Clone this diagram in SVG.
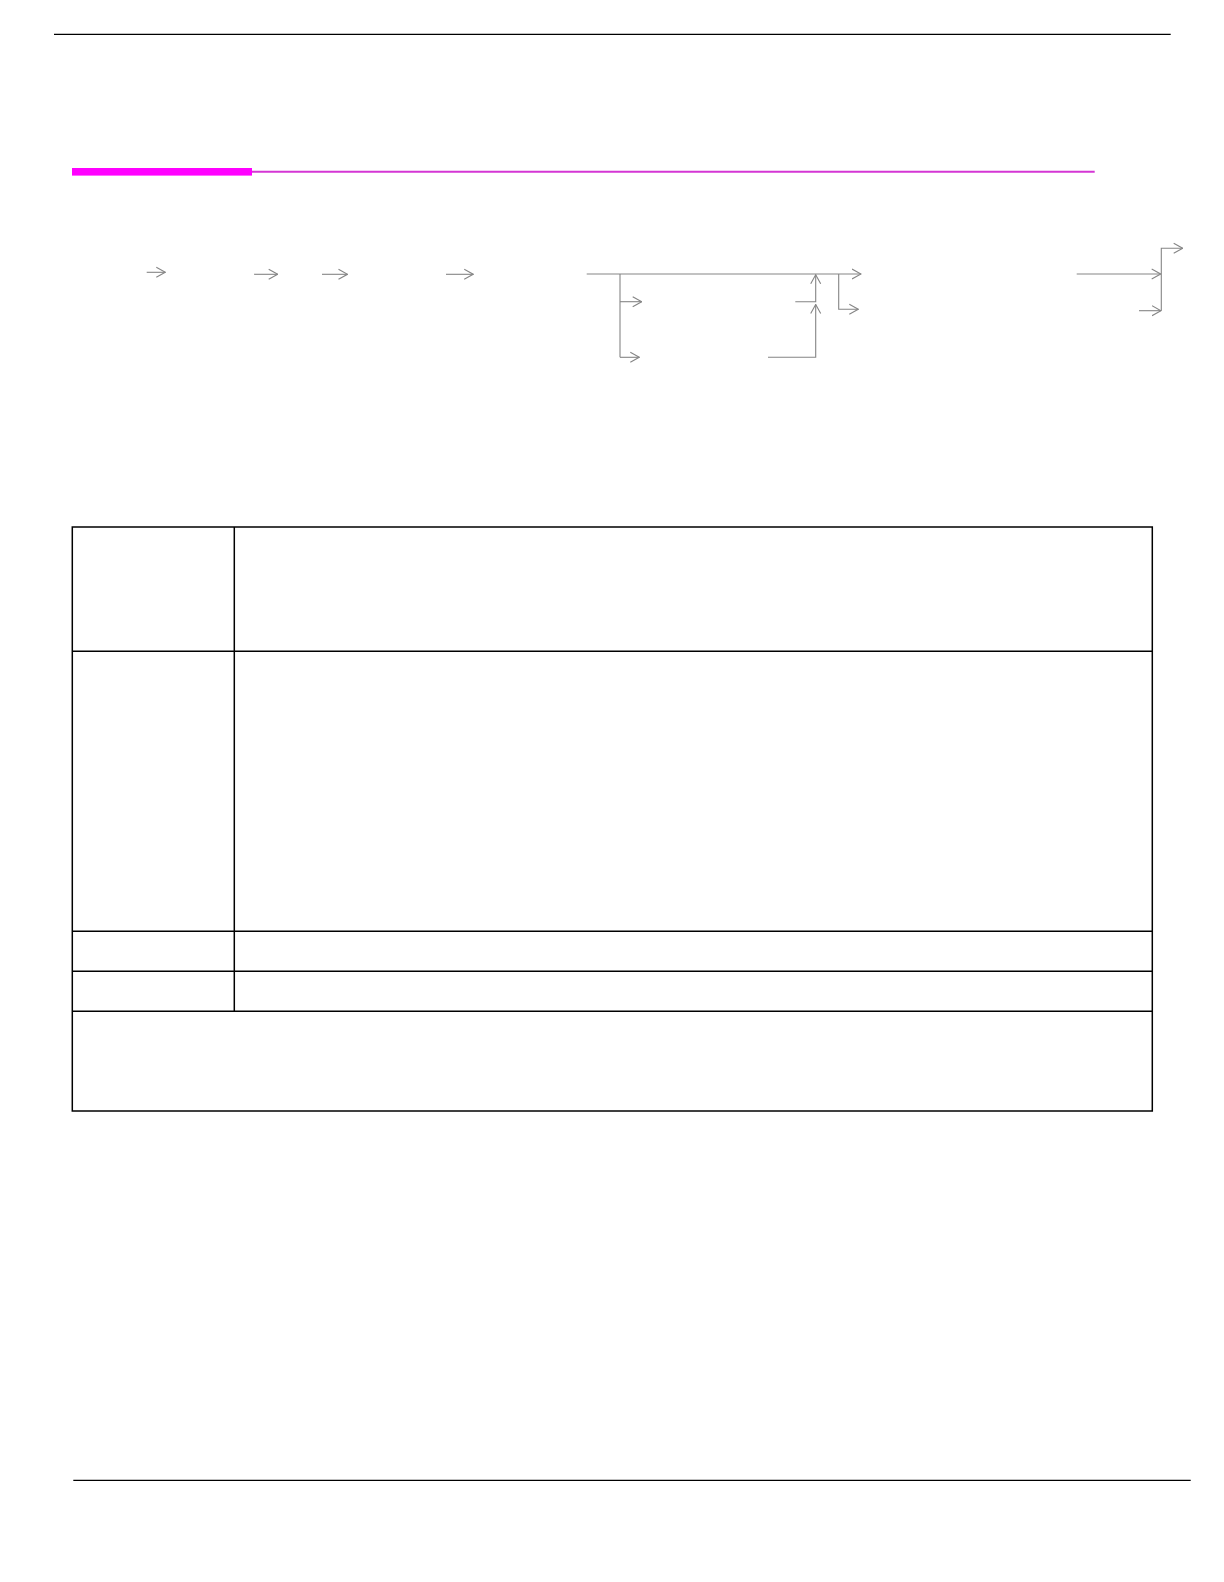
<svg xmlns="http://www.w3.org/2000/svg" width="1224" height="1582" viewBox="0 0 1224 1582">
  <style>
    .rule { stroke: #000000; stroke-width: 1.3; fill: none; }
    .conn { stroke: #858585; stroke-width: 1.1; fill: none; }
    .cell { stroke: #000000; stroke-width: 1.5; fill: none; }
  </style>
  <defs>
    <marker id="arr" markerUnits="userSpaceOnUse" viewBox="0 0 10 12" markerWidth="10" markerHeight="12" refX="9.5" refY="6" orient="auto">
      <path d="M0.5,1 L9.5,6 L0.5,11" fill="none" stroke="#858585" stroke-width="1.1"/>
    </marker>
  </defs>
  <rect width="1224" height="1582" fill="#ffffff"/>

  <g id="header">
    <line class="rule" x1="54" y1="34.3" x2="1170.7" y2="34.3"/>
    <rect x="72" y="168" width="180" height="7.6" fill="#ff00ff"/>
    <line x1="252" y1="171.7" x2="1094.7" y2="171.7" stroke="#d436d4" stroke-width="2"/>
  </g>

  <g id="connectors">
    <line class="conn" x1="146.7" y1="272.3" x2="165.3" y2="272.3" marker-end="url(#arr)"/>
    <line class="conn" x1="254" y1="274.3" x2="277.7" y2="274.3" marker-end="url(#arr)"/>
    <line class="conn" x1="322" y1="274.3" x2="347.5" y2="274.3" marker-end="url(#arr)"/>
    <line class="conn" x1="446" y1="274.3" x2="473.2" y2="274.3" marker-end="url(#arr)"/>

    <line class="conn" x1="586.7" y1="274" x2="861" y2="274" marker-end="url(#arr)"/>
    <polyline class="conn" points="620,274 620,357.3"/>
    <line class="conn" x1="620" y1="301.7" x2="641.7" y2="301.7" marker-end="url(#arr)"/>
    <line class="conn" x1="620" y1="357.3" x2="639.3" y2="357.3" marker-end="url(#arr)"/>
    <polyline class="conn" points="795.3,301.7 815.7,301.7 815.7,274.8" marker-end="url(#arr)"/>
    <polyline class="conn" points="768,357.3 815.7,357.3 815.7,304.5" marker-end="url(#arr)"/>
    <polyline class="conn" points="838.7,274 838.7,309.3 858.3,309.3" marker-end="url(#arr)"/>

    <line class="conn" x1="1076.7" y1="274" x2="1160.7" y2="274" marker-end="url(#arr)"/>
    <polyline class="conn" points="1161.3,310.7 1161.3,248.3 1182.7,248.3" marker-end="url(#arr)"/>
    <line class="conn" x1="1139" y1="310.7" x2="1161" y2="310.7" marker-end="url(#arr)"/>
  </g>

  <g id="table">
    <rect class="cell" x="72.3" y="527" width="1080" height="584"/>
    <line class="cell" x1="234.3" y1="527" x2="234.3" y2="1011.3"/>
    <line class="cell" x1="72.3" y1="651.3" x2="1152.3" y2="651.3"/>
    <line class="cell" x1="72.3" y1="931.3" x2="1152.3" y2="931.3"/>
    <line class="cell" x1="72.3" y1="971.3" x2="1152.3" y2="971.3"/>
    <line class="cell" x1="72.3" y1="1011.3" x2="1152.3" y2="1011.3"/>
  </g>

  <g id="footer">
    <line class="rule" x1="73.3" y1="1480.3" x2="1190.7" y2="1480.3"/>
  </g>
</svg>
